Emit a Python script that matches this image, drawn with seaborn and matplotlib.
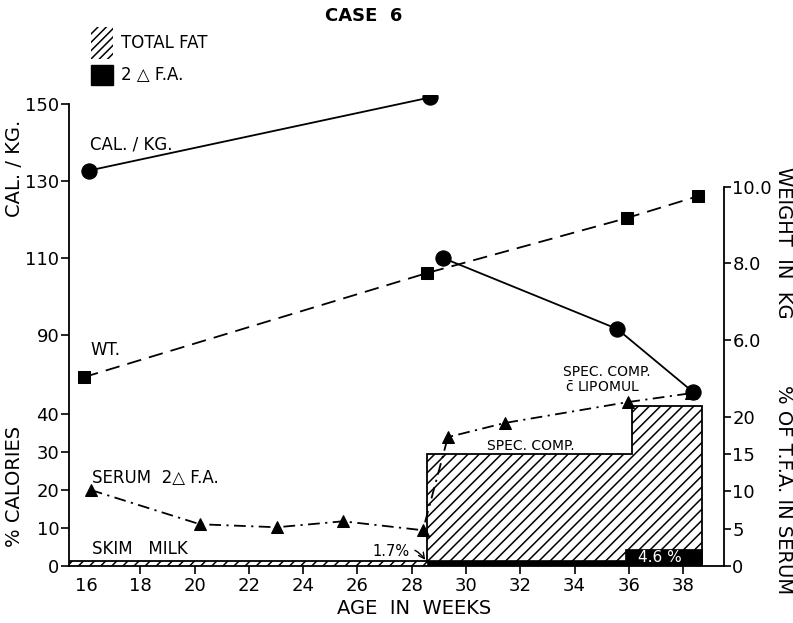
import numpy as np
import pandas as pd
import matplotlib
matplotlib.use("Agg")
import matplotlib.pyplot as plt
import seaborn as sns
from matplotlib.patches import Patch, Rectangle
from matplotlib.legend_handler import HandlerPatch

# ---------------- data ----------------
cal_weeks = [16.1, 28.67, 29.15, 35.56, 38.36]
cal_values = [132.7, 151.7, 110.0, 91.6, 75.2]
cal_period = [1, 1, 2, 2, 2]

wt_weeks = [15.93, 28.56, 35.93, 38.54]
wt_values = [5.03, 7.75, 9.19, 9.76]

tfa_weeks = [16.18, 20.2, 23.03, 25.47, 28.41, 29.33, 31.43, 35.96, 38.3]
tfa_values = [10.2, 5.6, 5.2, 6.0, 4.8, 17.3, 19.2, 22.0, 23.2]

fat_edges = [15.37, 28.56, 36.11, 38.69]     # skim milk | spec. comp | spec. comp c lipomul
fat_pct = [1.3, 29.5, 42.0]

fa_left = [28.56, 35.85]
fa_right = [38.69, 38.69]
fa_pct = [1.7, 4.6]

x_ticks = [16, 18, 20, 22, 24, 26, 28, 30, 32, 34, 36, 38]
cal_ticks = [90, 110, 130, 150]
pct_ticks = [0, 10, 20, 30, 40]
wt_ticks = [6.0, 8.0, 10.0]
wt_tick_labels = ["6.0", "8.0", "10.0"]
tfa_ticks = [0, 5, 10, 15, 20]

# ---------------- style ----------------
sns.set_theme(style="white")
plt.rcParams["font.family"] = ["DejaVu Sans"]
plt.rcParams["mathtext.fontset"] = "dejavusans"
plt.rcParams["hatch.linewidth"] = 1.1
plt.rcParams["hatch.color"] = "black"
for k in ("text.color", "axes.labelcolor", "xtick.color", "ytick.color", "axes.edgecolor"):
    plt.rcParams[k] = "black"

W, H = 793, 623
fig = plt.figure(figsize=(W / 100, H / 100), dpi=100)
fig.patch.set_facecolor("white")

L, R, B, T = 69, 724, 566, 95
rect = [L / W, 1 - B / H, (R - L) / W, (B - T) / H]

ax_pct = fig.add_axes(rect)
ax_tfa = ax_pct.twinx()
ax_wt = ax_pct.twinx()
ax_cal = ax_pct.twinx()

xlim = (15.374, 39.50)
for a in (ax_pct, ax_tfa, ax_wt, ax_cal):
    a.set_xlim(*xlim)
    a.patch.set_visible(False)
    for s in a.spines.values():
        s.set_visible(False)
        s.set_linewidth(1.3)
        s.set_color("black")

ax_pct.set_ylim(0, 123.95)
ax_cal.set_ylim(30.0, 152.34)
ax_wt.set_ylim(0.0915, 12.405)
ax_tfa.set_ylim(0, 63.22)

# ---------------- bars (% calories) ----------------
fat_left = fat_edges[:-1]
fat_width = list(np.diff(fat_edges))
ax_pct.bar(fat_left, fat_pct, width=fat_width, align="edge", color="white",
           edgecolor="black", linewidth=0, hatch="///", zorder=1)
ax_pct.stairs(fat_pct, fat_edges, baseline=0, color="black", linewidth=1.3, zorder=2)
fa_width = [r - l for l, r in zip(fa_left, fa_right)]
ax_pct.bar(fa_left, fa_pct, width=fa_width, align="edge", color="black",
           edgecolor="black", linewidth=0.5, zorder=3)

# ---------------- lines ----------------
tfa_df = pd.DataFrame({"week": tfa_weeks, "tfa": tfa_values})
sns.lineplot(data=tfa_df, x="week", y="tfa", ax=ax_tfa, color="black", sort=False,
             linewidth=1.3, marker="^", markersize=8, markeredgecolor="black",
             legend=False)
ax_tfa.lines[-1].set_dashes((6.5, 3, 1.2, 3))

wt_df = pd.DataFrame({"week": wt_weeks, "wt": wt_values})
sns.lineplot(data=wt_df, x="week", y="wt", ax=ax_wt, color="black", sort=False,
             linewidth=1.3, marker="s", markersize=9, markeredgecolor="black",
             legend=False)
ax_wt.lines[-1].set_dashes((8, 4.5))

cal_df = pd.DataFrame({"week": cal_weeks, "cal": cal_values, "period": cal_period})
sns.lineplot(data=cal_df, x="week", y="cal", units="period", estimator=None, ax=ax_cal,
             color="black", sort=False, linewidth=1.3, marker="o", markersize=11,
             markeredgecolor="black", legend=False)

# ---------------- axes / ticks ----------------
ax_pct.spines["bottom"].set_visible(True)
ax_pct.set_xticks(x_ticks)
ax_pct.set_xticklabels([str(t) for t in x_ticks])
ax_pct.tick_params(axis="x", direction="out", length=6, width=1.2, labelsize=13,
                   pad=2, bottom=True, labelbottom=True, colors="black")
ax_pct.xaxis.get_major_ticks()[0].tick1line.set_visible(False)

ax_pct.set_yticks(pct_ticks)
ax_pct.tick_params(axis="y", direction="out", length=6, width=1.2, labelsize=13,
                   pad=1, left=True, right=False, labelleft=True, labelright=False,
                   colors="black")

ax_cal.yaxis.set_ticks_position("left")
ax_cal.yaxis.set_label_position("left")
ax_cal.spines["left"].set_visible(True)
ax_cal.spines["left"].set_bounds(30.0, 150)
ax_cal.set_yticks(cal_ticks)
ax_cal.tick_params(axis="y", direction="out", length=6, width=1.2, labelsize=13,
                   pad=1, left=True, right=False, labelleft=True, labelright=False,
                   colors="black")

ax_wt.spines["right"].set_visible(True)
ax_wt.spines["right"].set_bounds(0.0915, 10.0)
ax_wt.set_yticks(wt_ticks)
ax_wt.set_yticklabels(wt_tick_labels)
ax_wt.tick_params(axis="y", direction="out", length=5, width=1.2, labelsize=13,
                  pad=1, right=True, left=False, colors="black")

ax_tfa.set_yticks(tfa_ticks)
ax_tfa.tick_params(axis="y", direction="out", length=5, width=1.2, labelsize=13,
                   pad=1, right=True, left=False, colors="black")

for a in (ax_tfa, ax_wt, ax_cal):
    a.tick_params(axis="x", bottom=False, top=False, labelbottom=False, labeltop=False)
for a in (ax_pct, ax_tfa, ax_wt, ax_cal):
    a.set_xlabel("")
    a.set_ylabel("")


def ftext(px, py, s, **kw):
    fig.text(px / W, 1 - py / H, s, **kw)


# ---------------- labels ----------------
ftext(364, 16, "CASE  6", ha="center", va="center", fontsize=13, fontweight="bold")
ftext(15, 168, "CAL. / KG.", rotation=90, ha="center", va="center", fontsize=14)
ftext(15, 486, "% CALORIES", rotation=90, ha="center", va="center", fontsize=14)
ftext(784, 243, "WEIGHT  IN  KG", rotation=270, ha="center", va="center", fontsize=14)
ftext(784, 490, "% OF T.F.A. IN SERUM", rotation=270, ha="center", va="center", fontsize=14)
ftext(414, 608, "AGE  IN  WEEKS", ha="center", va="center", fontsize=14)

ftext(90, 145, "CAL. / KG.", ha="left", va="center", fontsize=12)
ftext(90, 350, "WT.", ha="left", va="center", fontsize=12)
ftext(92, 478, "SERUM  2△ F.A.", ha="left", va="center", fontsize=12)
ftext(92, 549, "SKIM   MILK", ha="left", va="center", fontsize=12)
ftext(487, 446, "SPEC. COMP.", ha="left", va="center", fontsize=10)
ftext(563, 372, "SPEC. COMP.", ha="left", va="center", fontsize=10)
ftext(565, 388, r"$\bar{\mathrm{c}}$ LIPOMUL", ha="left", va="center", fontsize=10)
ftext(660, 557, "4.6 %", ha="center", va="center", fontsize=11, color="white")

ax_pct.annotate("1.7%", xy=(426 / W, 1 - 561 / H), xycoords="figure fraction",
                xytext=(372 / W, 1 - 552 / H), textcoords="figure fraction",
                ha="left", va="center", fontsize=10.5,
                arrowprops=dict(arrowstyle="->", color="black", lw=1.0,
                                connectionstyle="arc3,rad=-0.45",
                                shrinkA=2, shrinkB=1))


# ---------------- legend ----------------
def small_box(legend, orig_handle, xdescent, ydescent, width, height, fontsize):
    h = height * 0.62
    return Rectangle(xy=(-xdescent, -ydescent + (height - h) / 2), width=width, height=h)


handles = [Patch(facecolor="white", edgecolor="black", hatch="////", linewidth=0),
           Patch(facecolor="black", edgecolor="black")]
fig.legend(handles=handles, labels=["TOTAL FAT", "2 △ F.A."], loc="upper left",
           bbox_to_anchor=(91 / W, 1 - 27 / H), frameon=False, fontsize=12,
           handlelength=1.3, handleheight=2.6, labelspacing=0.0, handletextpad=0.5,
           borderpad=0, borderaxespad=0,
           handler_map={handles[1]: HandlerPatch(patch_func=small_box)})

fig.savefig("out.png", dpi=100, facecolor="white")
